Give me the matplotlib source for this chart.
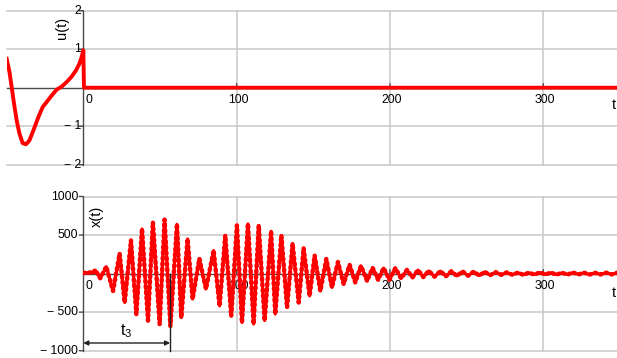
import matplotlib
matplotlib.use('Agg')
import matplotlib.pyplot as plt

# ---------------- data ----------------
u_t = [-50.0, -48.2, -46.7, -45.2, -43.5, -41.7, -39.6, -37.4, -35.2, -32.6,
       -29.3, -26.5, -23.9, -20.6, -17.4, -14.1, -10.8, -7.6, -4.8, -2.6,
       -1.1, 0.0, 0.4, 348.0]
u_val = [0.75, 0.41, 0.0, -0.42, -0.85, -1.19, -1.44, -1.47, -1.37, -1.11,
         -0.76, -0.50, -0.37, -0.20, -0.05, 0.03, 0.15, 0.29, 0.45, 0.62,
         0.80, 0.97, 0.0, 0.0]

x_t = [0.0, 1.5, 3.0, 4.5, 6.0, 7.8, 11.1, 15.0, 19.4, 23.7, 27.0, 31.1, 34.6,
       38.3, 42.2, 45.4, 49.8, 53.0, 56.8, 61.1, 63.9, 68.0, 71.3, 75.7, 80.0,
       85.0, 88.9, 92.6, 96.5, 100.2, 103.5, 107.4, 111.1, 114.4, 118.3, 122.5,
       125.2, 129.2, 132.9, 136.5, 140.5, 143.7, 147.6, 150.9, 154.6, 158.5,
       162.2, 166.1, 169.8, 173.7, 177.4, 181.1, 185.1, 188.7, 192.3, 195.9,
       199.7, 203.5, 207.3, 211.1, 214.7, 218.3, 221.8, 225.3, 229.1, 232.9,
       236.5, 240.0, 243.7, 247.4, 251.0, 254.6, 258.2, 261.8, 265.4, 269.0,
       272.6, 276.2, 279.8, 283.4, 287.0, 290.6, 294.2, 297.8, 301.4, 305.0,
       308.6, 312.2, 315.8, 319.4, 323.0, 326.6, 330.2, 333.8, 337.4, 341.0,
       344.6, 348.2]
x_val = [5, 15, 5, 18, 8, 45, -60, 90, -225, 260, -375, 430, -525,
         580, -610, 665, -655, 700, -680, 640, -570, 450, -330, 195, -200,
         300, -420, 495, -550, 625, -635, 645, -655, 625, -610, 550,
         -525, 495, -440, 390, -375, 330, -290, 235, -225, 190,
         -180, 150, -135, 115, -115, 100, -95, 75, -80, 72,
         -80, 70, -62, 48, -50, 45, -45, 35, -40, 32,
         -35, 30, -30, 28, -28, 25, -25, 22, -20, 18,
         -16, 15, -14, 12, -15, 11, -12, 14, -10, 12,
         -13, 10, -12, 13, -10, 11, -12, 10, -11, 12,
         -10, 10]

t3 = 56.6

u_yticks = [2, 1, -1, -2]
u_ylabels = ['2', '1', '\u2212 1', '\u2212 2']
x_yticks = [1000, 500, -500, -1000]
x_ylabels = ['1000', '500', '\u2212 500', '\u2212 1000']
x_ticks = [100, 200, 300]
x_ticklabels = ['100', '200', '300']

# ---------------- figure ----------------
plt.rcParams['font.family'] = ['Liberation Sans', 'DejaVu Sans']
plt.rcParams['mathtext.fontset'] = 'custom'
plt.rcParams['mathtext.rm'] = 'Liberation Sans'

W, H = 617, 358
fig = plt.figure(figsize=(W / 100, H / 100), dpi=100)
fig.patch.set_facecolor('white')


def pos(l, t, r, b):
    return [l / W, 1 - b / H, (r - l) / W, (b - t) / H]


ax1 = fig.add_axes(pos(6.7, 10.7, 617, 164.7))
ax2 = fig.add_axes(pos(83.3, 196.5, 617, 350.7))

GRID = '#c8c8c8'
AXC = '#4a4a4a'
FS = 8.8
NFS = 10.5


def setup(ax, xlim, ylim, yticks, xt):
    ax.set_xlim(*xlim)
    ax.set_ylim(*ylim)
    for s in ax.spines.values():
        s.set_visible(False)
    ax.set_xticks([])
    ax.set_yticks([])
    for v in yticks:
        ax.axhline(v, color=GRID, lw=1.1, zorder=0, clip_on=False)
    for v in xt:
        ax.axvline(v, color=GRID, lw=1.1, zorder=0, clip_on=False)
    ax.axhline(0, color=AXC, lw=1.0, zorder=1, clip_on=False)
    ax.axvline(0, color=AXC, lw=1.0, zorder=1, clip_on=False)
    for v in yticks:
        ax.annotate('', xy=(0, v), xytext=(-4, 0), textcoords='offset pixels',
                    arrowprops=dict(arrowstyle='-', color=AXC, lw=1.0,
                                    shrinkA=0, shrinkB=0),
                    annotation_clip=False)
    for v in xt:
        ax.annotate('', xy=(v, 0), xytext=(0, 4), textcoords='offset pixels',
                    arrowprops=dict(arrowstyle='-', color=AXC, lw=1.0,
                                    shrinkA=0, shrinkB=0),
                    annotation_clip=False)


setup(ax1, (-50, 348.1), (-2, 2), u_yticks, x_ticks)
setup(ax2, (0, 348.1), (-1000, 1000), x_yticks, x_ticks)

# y tick labels
for v, lab in zip(u_yticks, u_ylabels):
    ax1.annotate(lab, xy=(0, v), xytext=(-2, 0), textcoords='offset pixels',
                 ha='right', va='center', fontsize=FS, annotation_clip=False)
for v, lab in zip(x_yticks, x_ylabels):
    ax2.annotate(lab, xy=(0, v), xytext=(-5, 0), textcoords='offset pixels',
                 ha='right', va='center', fontsize=FS, annotation_clip=False)

# x tick labels
for ax in (ax1, ax2):
    ax.annotate('0', xy=(0, 0), xytext=(2, -6), textcoords='offset pixels',
                ha='left', va='top', fontsize=FS, annotation_clip=False)
    for v, lab in zip(x_ticks, x_ticklabels):
        ax.annotate(lab, xy=(v, 0), xytext=(2, -6), textcoords='offset pixels',
                    ha='center', va='top', fontsize=FS, annotation_clip=False)

# axis names
fig.text(62 / W, 1 - 28 / H, 'u(t)', rotation=90, ha='center', va='center',
         fontsize=NFS)
fig.text(96.5 / W, 1 - 216 / H, 'x(t)', rotation=90, ha='center', va='center',
         fontsize=NFS)
fig.text(613.5 / W, 1 - 105 / H, 't', ha='center', va='center', fontsize=NFS)
fig.text(614 / W, 1 - 293 / H, 't', ha='center', va='center', fontsize=NFS)

# data
ax1.plot(u_t, u_val, color='#ff0000', lw=2.8, solid_joinstyle='round',
         zorder=3)
ax2.plot(x_t, x_val, color='#ff0000', lw=2.2, solid_joinstyle='round',
         zorder=3)
ax2.plot(x_t, x_val, color='#ff0000', lw=3.2, linestyle=(0, (0.35, 0.9)),
         dash_capstyle='round', zorder=3)

# t3 annotation
ax2.plot([t3, t3], [0, -1000], color='#202020', lw=1.0, zorder=4,
         clip_on=False)
ax2.annotate('', xy=(0, -900), xytext=(t3, -900),
             arrowprops=dict(arrowstyle='<|-|>', color='#202020', lw=1.0,
                             shrinkA=0, shrinkB=0, mutation_scale=7),
             annotation_clip=False, zorder=4)
ax2.text(27.9, -740, r'$\mathrm{t}_{3}$', ha='center', va='center',
         fontsize=11.5, zorder=4)

fig.savefig('out.png', dpi=100, facecolor='white')
